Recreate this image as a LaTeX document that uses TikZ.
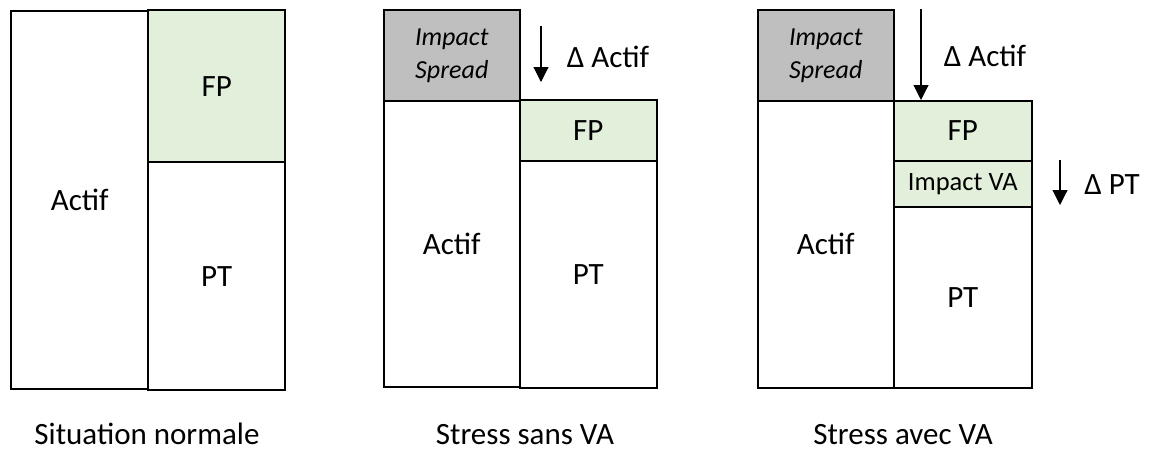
\documentclass[tikz,border=0pt]{standalone}
\usepackage{fontspec}
\setmainfont{Carlito}
\usetikzlibrary{arrows.meta}
\definecolor{fpgreen}{HTML}{E2EFDA}
\definecolor{spreadgray}{HTML}{BFBFBF}
\tikzset{
  cell/.style={draw=black, rectangle, inner sep=0pt, anchor=north west, font=\fontsize{31}{36}\selectfont, align=center},
  thickcell/.style={cell, line width=2.4pt},
  thincell/.style={cell, line width=1.6pt},
  smalltxt/.style={font=\fontsize{26}{33}\selectfont},
  vatxt/.style={font=\fontsize{26.5}{32}\selectfont},
  lbl/.style={font=\fontsize{31}{36}\selectfont, inner sep=0pt},
  darrow/.style={line width=1.1pt, -{Triangle[width=15pt,length=15pt]}}
}
\begin{document}
\begin{tikzpicture}[x=1pt,y=-1pt]
\useasboundingbox (0,0) rectangle (1149,450);
% Panel 1
\node[thickcell, minimum width=137pt, minimum height=378pt] (A1) at (10,10) {Actif};
\node[thickcell, fill=fpgreen, minimum width=137pt, minimum height=152pt] (FP1) at (147,9) {FP};
\node[thickcell, minimum width=137pt, minimum height=228pt] (PT1) at (147,161) {PT};
% Panel 2
\node[thincell, fill=spreadgray, minimum width=136pt, minimum height=91pt, smalltxt] (IS2) at (383,9) {\itshape Impact\\\itshape Spread};
\node[thincell, minimum width=136pt, minimum height=286pt] (A2) at (383,100) {Actif};
\node[thincell, fill=fpgreen, minimum width=137pt, minimum height=61pt] (FP2) at (519,99) {FP};
\node[thincell, minimum width=137pt, minimum height=227pt] (PT2) at (519,160) {PT};
\coordinate (s2) at (541,26);
\coordinate (e2) at (541,82);
\draw[darrow] (s2) -- (e2);
\node[lbl] (D2) at (608,57) {Δ Actif};
% Panel 3
\node[thincell, fill=spreadgray, minimum width=136pt, minimum height=91pt, smalltxt] (IS3) at (757,9) {\itshape Impact\\\itshape Spread};
\node[thincell, minimum width=136pt, minimum height=287pt] (A3) at (757,100) {Actif};
\node[thincell, fill=fpgreen, minimum width=138pt, minimum height=60pt] (FP3) at (893,100) {FP};
\node[thincell, fill=fpgreen, minimum width=138pt, minimum height=46pt, vatxt] (VA3) at (893,160) {Impact VA};
\node[thincell, minimum width=138pt, minimum height=181pt] (PT3) at (893,206) {PT};
\coordinate (s3) at (921,9);
\coordinate (e3) at (921,100);
\draw[darrow] (s3) -- (e3);
\node[lbl] (D3) at (985,56) {Δ Actif};
\coordinate (s4) at (1060,160);
\coordinate (e4) at (1060,205);
\draw[darrow] (s4) -- (e4);
\node[lbl] (DPT) at (1112,185) {Δ PT};
% Captions
\node[lbl, anchor=base] (C1) at (147,444) {Situation normale};
\node[lbl, anchor=base] (C2) at (525,444) {Stress sans VA};
\node[lbl, anchor=base] (C3) at (903,444) {Stress avec VA};
\end{tikzpicture}
\end{document}
